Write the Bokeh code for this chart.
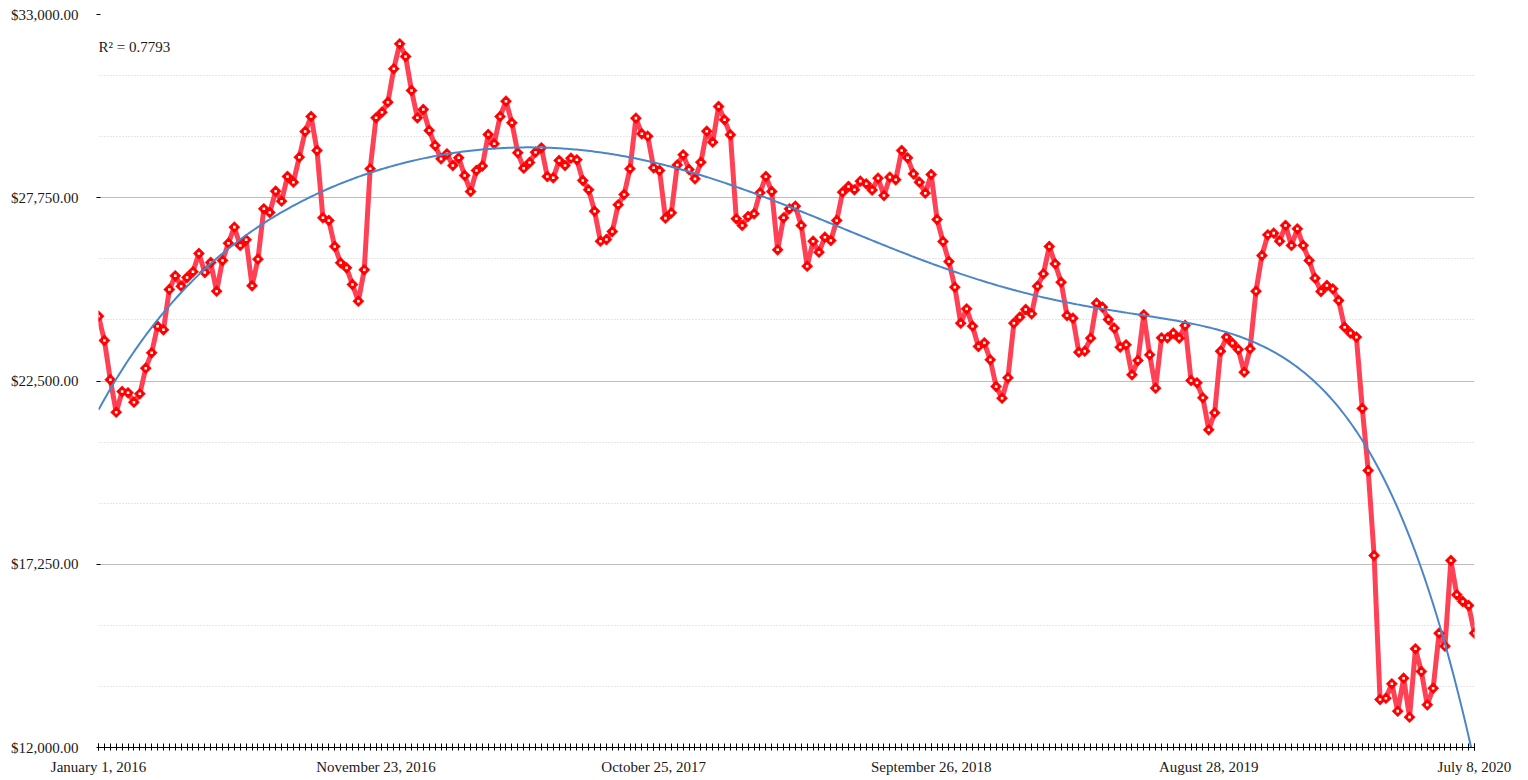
import numpy as np
from bokeh.plotting import figure
from bokeh.models import Range1d, FixedTicker, NumeralTickFormatter, Label, ColumnDataSource
from bokeh.embed import file_html
from bokeh.resources import INLINE

# ---- data ----
prices = [
    24357, 23661, 22535, 21606, 22199, 22162, 21893, 22133, 22867, 23308,
    24070, 23967, 25122, 25514, 25216, 25466, 25629, 26153, 25609, 25895,
    25073, 25953, 26448, 26907, 26383, 26545, 25228, 25990, 27433, 27328,
    27938, 27651, 28359, 28196, 28912, 29648, 30078, 29104, 27175, 27099,
    26354, 25886, 25743, 25265, 24787, 25686, 28579, 30040, 30201, 30488,
    31444, 32161, 31797, 30823, 30040, 30279, 29677, 29247, 28865, 29008,
    28673, 28894, 28388, 27929, 28531, 28660, 29562, 29295, 30078, 30516,
    29897, 29037, 28597, 28760, 29055, 29181, 28359, 28321, 28817, 28673,
    28883, 28837, 28245, 27978, 27365, 26505, 26554, 26783, 27548, 27843,
    28579, 30030, 29582, 29515, 28608, 28531, 27166, 27318, 28690, 28980,
    28559, 28292, 28769, 29657, 29342, 30364, 29983, 29554, 27147, 26956,
    27214, 27290, 27892, 28359, 27929, 26259, 27175, 27433, 27509, 26956,
    25789, 26505, 26190, 26620, 26526, 27099, 27910, 28073, 27978, 28225,
    28149, 27970, 28311, 27815, 28340, 28264, 29104, 28894, 28435, 28196,
    27881, 28416, 27127, 26497, 25924, 25188, 24156, 24568, 24070, 23489,
    23594, 23107, 22342, 22007, 22592, 24156, 24328, 24549, 24425, 25216,
    25571, 26354, 25857, 25331, 24377, 24299, 23327, 23355, 23728, 24731,
    24616, 24262, 24013, 23469, 23537, 22678, 23088, 24397, 23251, 22295,
    23738, 23738, 23871, 23728, 24090, 22515, 22448, 22019, 21102, 21589,
    23355, 23757, 23585, 23403, 22753, 23422, 25073, 26095, 26688, 26736,
    26506, 26956, 26383, 26860, 26383, 25953, 25446, 25064, 25236, 25140,
    24806, 24041, 23871, 23757, 21712, 19936, 17501, 13375, 13412, 13825,
    13041, 13986, 12870, 14828, 14178, 13222, 13699, 15275, 14904, 17358,
    16375, 16183, 16069, 15275,
]
tick_labels = ["January 1, 2016", "November 23, 2016", "October 25, 2017",
               "September 26, 2018", "August 28, 2019", "July 8, 2020"]
tick_index = [0, 47, 94, 141, 188, 233]
y_ticks = [12000, 17250, 22500, 27750, 33000]
y_minor = [12000 + 1750 * k for k in range(13)]
r2_text = "R\u00b2 = 0.7793"

idx = np.arange(len(prices))
poly = np.polynomial.Polynomial.fit(idx, np.array(prices, dtype=float), 6)
trend_x = np.linspace(0, len(prices) - 1, 600)
trend_y = poly(trend_x)

FONT = "Liberation Serif"

p = figure(width=1520, height=778, output_backend="svg", toolbar_location=None,
           x_range=Range1d(0, len(prices) - 1), y_range=Range1d(12000, 33000),
           min_border_left=98, min_border_right=46, min_border_top=14, min_border_bottom=31)
p.outline_line_color = None
p.background_fill_color = "white"
p.border_fill_color = "white"

# grid
p.xgrid.grid_line_color = None
p.ygrid.grid_line_color = "#BDBDBD"
p.ygrid.grid_line_width = 1
p.ygrid.minor_grid_line_color = "#CFCFCF"
p.ygrid.minor_grid_line_dash = "1 2"
p.ygrid.minor_grid_line_width = 1

# axes
xa = p.xaxis[0]
xa.ticker = FixedTicker(ticks=tick_index, minor_ticks=list(range(len(prices))))
xa.major_label_overrides = {i: s for i, s in zip(tick_index, tick_labels)}
xa.axis_line_color = "black"
xa.major_tick_line_color = "black"
xa.minor_tick_line_color = "black"
xa.major_tick_in = 4
xa.major_tick_out = 3
xa.minor_tick_in = 4
xa.minor_tick_out = 3
xa.major_label_standoff = 8
xa.major_label_text_font = FONT
xa.major_label_text_font_size = "15px"
xa.major_label_text_color = "#1a1a1a"

ya = p.yaxis[0]
ya.ticker = FixedTicker(ticks=y_ticks, minor_ticks=y_minor)
ya.formatter = NumeralTickFormatter(format="$0,0.00")
ya.axis_line_color = None
ya.major_tick_line_color = "black"
ya.major_tick_in = 2
ya.major_tick_out = 2
ya.minor_tick_line_color = None
ya.major_label_standoff = 16
ya.major_label_text_font = FONT
ya.major_label_text_font_size = "15px"
ya.major_label_text_color = "#1a1a1a"

src = ColumnDataSource(dict(x=idx, y=prices))
p.line("x", "y", source=src, line_color="#FF4156", line_width=5, line_join="round")
p.scatter("x", "y", source=src, marker="square", angle=np.pi / 4, size=8,
          fill_color="#FF0000", line_color="#FF0000", line_width=0.5)
p.scatter("x", "y", source=src, marker="square", size=2.6,
          fill_color="white", line_color=None)
p.line(trend_x, trend_y, line_color="#4A86C8", line_width=2)

p.add_layout(Label(x=0, y=32080, text=r2_text, text_font=FONT, text_font_size="15px",
                   text_baseline="middle", text_align="left", text_color="#1a1a1a"))

open("out.html", "w").write(file_html(p, INLINE))
